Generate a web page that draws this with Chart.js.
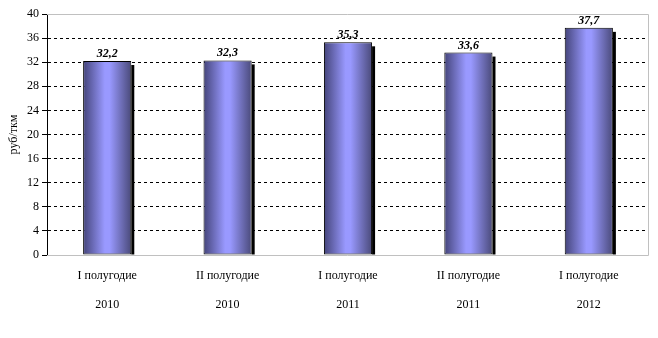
<!DOCTYPE html>
<html>
<head>
<meta charset="utf-8">
<script src="https://cdn.jsdelivr.net/npm/chart.js@4"></script>
<style>
    html, body { margin: 0; padding: 0; background: #fff; }
    #wrap { width: 658px; height: 338px; }
</style>
</head>
<body>
<div id="wrap"><canvas id="costChart"></canvas></div>
<script>
const periods = ['I полугодие', 'II полугодие', 'I полугодие', 'II полугодие', 'I полугодие'];
const years = ['2010', '2010', '2011', '2011', '2012'];
const costPerTkm = [32.2, 32.3, 35.3, 33.6, 37.7];

const fontFamily = "'Liberation Serif', 'Times New Roman', serif";
const barPct = 0.4;

// Рамка области построения (серая сверху, справа и снизу)
const plotFrame = {
    id: 'plotFrame',
    beforeDatasetsDraw(chart) {
        const { ctx, chartArea: a } = chart;
        ctx.save();
        ctx.strokeStyle = '#c0c0c0';
        ctx.lineWidth = 1;
        ctx.beginPath();
        ctx.moveTo(a.left, a.top + 0.5);
        ctx.lineTo(a.right - 0.5, a.top + 0.5);
        ctx.lineTo(a.right - 0.5, a.bottom + 0.5);
        ctx.lineTo(a.left, a.bottom + 0.5);
        ctx.stroke();
        ctx.restore();
    }
};

// Тень справа от столбца
const barShadow = {
    id: 'barShadow',
    beforeDatasetsDraw(chart) {
        const { ctx } = chart;
        ctx.save();
        ctx.fillStyle = '#000';
        chart.getDatasetMeta(0).data.forEach(el => {
            const right = el.x + el.width / 2;
            ctx.fillRect(right, el.y + 4, 3, el.base - el.y - 4);
        });
        ctx.restore();
    }
};

// Подписи значений над столбцами
const valueLabels = {
    id: 'valueLabels',
    afterDatasetsDraw(chart) {
        const { ctx } = chart;
        ctx.save();
        ctx.font = 'italic bold 12px ' + fontFamily;
        ctx.fillStyle = '#000';
        ctx.textAlign = 'center';
        ctx.textBaseline = 'alphabetic';
        chart.getDatasetMeta(0).data.forEach((el, i) => {
            ctx.fillText(costPerTkm[i].toFixed(1).replace('.', ','), el.x, el.y - 4);
        });
        ctx.restore();
    }
};

// Объёмная горизонтальная заливка каждого столбца
function barFill(c) {
    const xs = c.chart.scales.x;
    if (c.type !== 'data' || !xs || !xs.width) return '#9999ff';
    const cx = xs.getPixelForValue(c.dataIndex);
    const w = xs.width / periods.length * barPct;
    const g = c.chart.ctx.createLinearGradient(cx - w / 2, 0, cx + w / 2, 0);
    g.addColorStop(0, '#44447a');
    g.addColorStop(0.45, '#9999ff');
    g.addColorStop(0.55, '#9999ff');
    g.addColorStop(1, '#4a4a7a');
    return g;
}

new Chart(document.getElementById('costChart'), {
    type: 'bar',
    data: {
        labels: periods.map((p, i) => [p, years[i]]),
        datasets: [{
            data: costPerTkm,
            backgroundColor: barFill,
            borderColor: '#000',
            borderWidth: 1,
            borderSkipped: false,
            barPercentage: barPct,
            categoryPercentage: 1
        }]
    },
    options: {
        responsive: true,
        maintainAspectRatio: false,
        animation: false,
        devicePixelRatio: 1,
        layout: { padding: { top: 14, right: 9, bottom: 0, left: 0 } },
        plugins: {
            legend: { display: false },
            tooltip: { enabled: false }
        },
        scales: {
            y: {
                min: 0,
                max: 40,
                ticks: {
                    stepSize: 4,
                    color: '#000',
                    padding: 3,
                    font: { size: 12, family: fontFamily }
                },
                grid: {
                    color: c => (c.tick && (c.tick.value === 0 || c.tick.value === 40)) ? 'rgba(0,0,0,0)' : '#000',
                    tickColor: '#000',
                    tickLength: 5,
                    tickBorderDash: []
                },
                border: { display: true, color: '#000', width: 1, dash: [3, 3] },
                title: {
                    display: true,
                    text: 'руб/ткм',
                    color: '#000',
                    padding: { top: 7, bottom: 0 },
                    font: { size: 12, family: fontFamily }
                },
                afterFit(scale) { scale.width = 47; }
            },
            x: {
                grid: { display: false, drawTicks: false },
                border: { display: false },
                ticks: {
                    color: '#000',
                    padding: 6,
                    font: { size: 12, family: fontFamily, lineHeight: 2.45 }
                },
                afterFit(scale) { scale.height = 83; }
            }
        }
    },
    plugins: [plotFrame, barShadow, valueLabels]
});
</script>
</body>
</html>
